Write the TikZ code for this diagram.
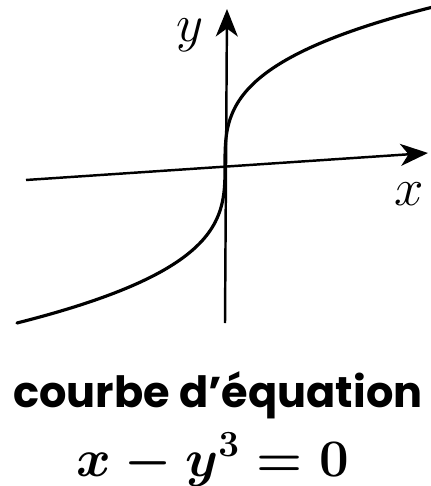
\RequirePackage{fix-cm}
\documentclass[tikz,border=0pt]{standalone}
\usepackage{amsmath,amssymb}
\usepackage{fontspec}
\newfontfamily\capfont{Poppins}
\usepackage{tikz}
\usetikzlibrary{calc,positioning,arrows.meta}

\begin{document}
\begin{tikzpicture}[x=0.02cm,y=-0.02cm,
                    axis/.style={line width=1.4pt,-{Stealth[length=5.5mm,width=4.4mm,inset=1.6mm]}},
                    curve/.style={line width=1.8pt,line cap=round},
                    lbl/.style={anchor=base,font=\fontsize{30}{33}\selectfont},
                    captext/.style={anchor=base,font=\capfont\bfseries\fontsize{24.5}{28}\selectfont}]
    \useasboundingbox (0,0) rectangle (430,486);
    % axes
    \coordinate (xw) at (26,180);
    \coordinate (xe) at (428,153);
    \coordinate (ys) at (225,323);
    \coordinate (yn) at (227,9);
    \draw[axis] (xw) -- (xe);
    \draw[axis] (ys) -- (yn);
    \node[lbl] (ylab) at (190,42) {$y$};
    \node[lbl] (xlab) at (409,205) {$x$};
    % the curve x = y^3
    \draw[curve] plot[domain=-1:1,samples=120,smooth,variable=\u]
      ({225+208*\u*\u*\u},{165-158*\u});
    % caption
    \node[captext] (title) at (218,407) {courbe d’équation};
    \node[anchor=base,font=\boldmath\fontsize{30}{34}\selectfont] (eqn) at (213,476) {$x-y^{\mathbf{3}}=0$};
\end{tikzpicture}
\end{document}
